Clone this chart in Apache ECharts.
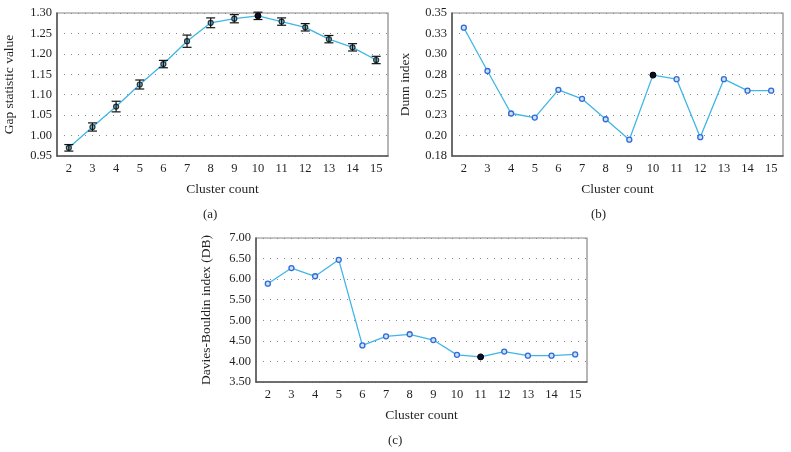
<!DOCTYPE html>
<html>
<head>
<meta charset="utf-8">
<script src="https://cdn.jsdelivr.net/npm/echarts@6/dist/echarts.min.js"></script>
<style>
html,body{margin:0;padding:0;background:#fff;}
#chart{width:791px;height:452px;}
</style>
</head>
<body>
<div id="chart"></div>
<script>
var categories = ['2','3','4','5','6','7','8','9','10','11','12','13','14','15'];

var gapValues = [0.970, 1.021, 1.071, 1.125, 1.175, 1.231, 1.276, 1.286, 1.293, 1.279, 1.265, 1.236, 1.216, 1.185];
var gapErr    = [0.008, 0.010, 0.013, 0.011, 0.009, 0.015, 0.012, 0.010, 0.009, 0.009, 0.009, 0.009, 0.009, 0.009];
var gapBest = 8;

var dunnValues = [0.332, 0.279, 0.227, 0.222, 0.256, 0.245, 0.220, 0.195, 0.274, 0.269, 0.198, 0.269, 0.255, 0.255];
var dunnBest = 8;

var dbValues = [5.89, 6.27, 6.07, 6.47, 4.39, 4.61, 4.66, 4.52, 4.16, 4.11, 4.24, 4.14, 4.14, 4.17];
var dbBest = 9;

var gapTicks  = ['0.95','1.00','1.05','1.10','1.15','1.20','1.25','1.30'];
var dunnTicks = ['0.18','0.20','0.23','0.25','0.28','0.30','0.33','0.35'];
var dbTicks   = ['3.50','4.00','4.50','5.00','5.50','6.00','6.50','7.00'];

var FONT = '"Liberation Serif", "DejaVu Serif", serif';
var TXT = '#231f20';

function tickFormatter(labels, min, step) {
  return function (v) {
    var i = Math.round((v - min) / step);
    return labels[i] !== undefined ? labels[i] : '';
  };
}

function mkX(gridIndex) {
  return {
    type: 'category', gridIndex: gridIndex, data: categories, boundaryGap: true,
    axisLine: { show: true, lineStyle: { color: '#555', width: 1.5 } },
    axisTick: { show: false },
    axisLabel: { fontFamily: FONT, fontSize: 12.5, color: TXT, margin: 6 },
    name: 'Cluster count', nameLocation: 'middle', nameGap: 26,
    nameTextStyle: { fontFamily: FONT, fontSize: 13.5, color: TXT },
    splitLine: { show: false }
  };
}

function mkY(gridIndex, min, max, step, labels, name, gap) {
  return {
    type: 'value', gridIndex: gridIndex, min: min, max: max, interval: step,
    axisLine: { show: true, lineStyle: { color: '#555', width: 1.5 } },
    axisTick: { show: false },
    axisLabel: { fontFamily: FONT, fontSize: 12.5, color: TXT, margin: 5,
                 formatter: tickFormatter(labels, min, step) },
    splitLine: { show: true, lineStyle: { color: '#8a8a8a', type: [1, 6], width: 1 } },
    name: name, nameLocation: 'middle', nameGap: gap,
    nameTextStyle: { fontFamily: FONT, fontSize: 13.5, color: TXT }
  };
}

function lineData(values, best, normalStyle) {
  return values.map(function (v, i) {
    if (i === best) {
      return { value: v, symbolSize: 6, itemStyle: { color: '#0b0b2a', borderColor: '#000', borderWidth: 1 } };
    }
    return { value: v, itemStyle: normalStyle };
  });
}

var blueMarker = { color: '#cfe0fb', borderColor: '#2f6ad8', borderWidth: 1.3 };
var tealMarker = { color: '#7bb6c8', borderColor: '#1d3542', borderWidth: 1.2 };

var errData = gapValues.map(function (v, i) { return [i, v - gapErr[i], v + gapErr[i]]; });

var chart = echarts.init(document.getElementById('chart'), null, { renderer: 'canvas' });
chart.setOption({
  backgroundColor: '#fff',
  animation: false,
  grid: [
    { left: 57, top: 13, width: 331, height: 143, show: true, borderColor: '#888', borderWidth: 1.2, backgroundColor: 'transparent' },
    { left: 452, top: 13, width: 331, height: 143, show: true, borderColor: '#888', borderWidth: 1.2, backgroundColor: 'transparent' },
    { left: 256, top: 238, width: 331, height: 144, show: true, borderColor: '#888', borderWidth: 1.2, backgroundColor: 'transparent' }
  ],
  xAxis: [mkX(0), mkX(1), mkX(2)],
  yAxis: [
    mkY(0, 0.95, 1.30, 0.05, gapTicks, 'Gap statistic value', 41),
    mkY(1, 0.175, 0.35, 0.025, dunnTicks, 'Dunn index', 40),
    mkY(2, 3.5, 7, 0.5, dbTicks, 'Davies-Bouldin index (DB)', 43)
  ],
  title: [
    { text: '(a)', left: 198, top: 203, textStyle: { fontFamily: FONT, fontSize: 13, fontWeight: 'normal', color: TXT } },
    { text: '(b)', left: 586, top: 203, textStyle: { fontFamily: FONT, fontSize: 13, fontWeight: 'normal', color: TXT } },
    { text: '(c)', left: 383, top: 429, textStyle: { fontFamily: FONT, fontSize: 13, fontWeight: 'normal', color: TXT } }
  ],
  series: [
    {
      type: 'line', xAxisIndex: 0, yAxisIndex: 0, z: 2,
      data: lineData(gapValues, gapBest, tealMarker),
      symbol: 'circle', symbolSize: 5, showAllSymbol: true,
      lineStyle: { color: '#3fb6e6', width: 1.3 }
    },
    {
      type: 'custom', xAxisIndex: 0, yAxisIndex: 0, z: 4, clip: false,
      data: errData,
      renderItem: function (params, api) {
        var x = api.value(0);
        var lo = api.coord([x, api.value(1)]);
        var hi = api.coord([x, api.value(2)]);
        var w = 4.5;
        var st = { stroke: '#111', lineWidth: 1.2 };
        return {
          type: 'group',
          children: [
            { type: 'line', shape: { x1: lo[0], y1: lo[1], x2: hi[0], y2: hi[1] }, style: st },
            { type: 'line', shape: { x1: lo[0] - w, y1: lo[1], x2: lo[0] + w, y2: lo[1] }, style: st },
            { type: 'line', shape: { x1: hi[0] - w, y1: hi[1], x2: hi[0] + w, y2: hi[1] }, style: st }
          ]
        };
      }
    },
    {
      type: 'line', xAxisIndex: 1, yAxisIndex: 1, z: 2,
      data: lineData(dunnValues, dunnBest, blueMarker),
      symbol: 'circle', symbolSize: 5, showAllSymbol: true,
      lineStyle: { color: '#3fb6e6', width: 1.3 }
    },
    {
      type: 'line', xAxisIndex: 2, yAxisIndex: 2, z: 2,
      data: lineData(dbValues, dbBest, blueMarker),
      symbol: 'circle', symbolSize: 5, showAllSymbol: true,
      lineStyle: { color: '#3fb6e6', width: 1.3 }
    }
  ]
});
</script>
</body>
</html>
